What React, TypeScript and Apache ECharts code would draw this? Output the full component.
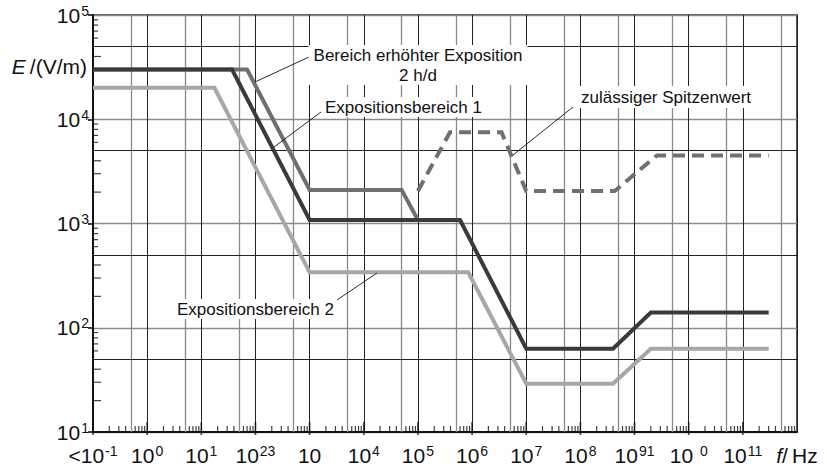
import React, { useEffect, useRef } from "react";
import * as echarts from "echarts";

// ---- data: [frequency in Hz, field strength in V/m] ----
const zone1: number[][] = [
  [0.1, 30000], [37, 30000], [1000, 1080], [6e5, 1080], [1e7, 63], [4e8, 63], [2e9, 140], [3e11, 140],
];
const zoneHigh: number[][] = [
  [0.1, 30000], [70, 30000], [1000, 2100], [5e4, 2100], [1e5, 1080],
];
const zone2: number[][] = [
  [0.1, 20000], [17.5, 20000], [1000, 340], [8.5e5, 340], [1e7, 29], [4e8, 29], [2e9, 63], [3e11, 63],
];
const peak: number[][] = [
  [1e5, 2050], [3.9e5, 7500], [3.5e6, 7500], [1e7, 2050], [4.3e8, 2050], [2.6e9, 4500], [3e11, 4500],
];

// tick labels (as printed in the reference), one per decade 10^-1 ... 10^12
const xTickBase = ["<10", "10", "10", "10", "10", "10", "10", "10", "10", "10", "10", "10 ", "10", "f"];
const xTickSup = ["-1", "0", "1", "23", "", "4", "5", "6", "7", "8", "91", "0", "11", ""];
const yTickExp = ["1", "2", "3", "4", "5"];

const xDecades = [-1, 0, 1, 2, 3, 4, 5, 6, 7, 8, 9, 10, 11];
const yDecades = [1, 2, 3, 4];
const minorMultipliers = [2, 3, 4, 6, 7, 8, 9];
const halfMultiplier = 5;

const FONT = "'Liberation Sans', Arial, Helvetica, sans-serif";

export default function App() {
  const ref = useRef<HTMLDivElement>(null);

  useEffect(() => {
    document.body.style.margin = "0";
    if (!ref.current) return;
    const chart = echarts.init(ref.current, null, { renderer: "svg" });

    const lg = (v: number) => Math.log10(v);
    const toLog = (pts: number[][]) => pts.map(([f, e]) => [lg(f), lg(e)]);

    const X0 = -1, X1 = 12, Y0 = 1;
    const xMinor: number[][] = [];
    xDecades.forEach((d) => minorMultipliers.forEach((m) => xMinor.push([d + lg(m), Y0])));
    const yMinorLong: number[][] = [];
    const yMinorShort: number[][] = [];
    yDecades.forEach((d) =>
      minorMultipliers.forEach((m) => (m <= 4 ? yMinorLong : yMinorShort).push([X0, d + lg(m)]))
    );
    const xHalf = xDecades.map((d) => d + lg(halfMultiplier));
    const yHalf = yDecades.map((d) => d + lg(halfMultiplier));
    const xMajorTicks = xDecades.map((d) => [d, Y0]);

    const rich = {
      t: { fontSize: 21, fontFamily: FONT, color: "#111", lineHeight: 23 },
      s: { fontSize: 14, fontFamily: FONT, color: "#111", verticalAlign: "top", lineHeight: 14, padding: [0, 0, 0, 1] },
      i: { fontSize: 21, fontFamily: FONT, color: "#111", fontStyle: "italic", lineHeight: 23 },
    };

    const tickSeries = (data: number[][], size: number[], offset: number[]) => ({
      type: "scatter", silent: true, z: 3, clip: false, data,
      symbol: "rect", symbolSize: size, symbolOffset: offset,
      itemStyle: { color: "#111", borderWidth: 0 },
      emphasis: { disabled: true },
    });

    const option: any = {
      animation: false,
      grid: {
        left: 93, right: 30, top: 15, bottom: 35,
        containLabel: false, outerBoundsMode: "none",
        show: true, borderColor: "#222", borderWidth: 1.5, backgroundColor: "transparent",
      },
      xAxis: {
        type: "value", min: X0, max: X1, interval: 1,
        axisLine: { show: true, onZero: false, lineStyle: { color: "#111", width: 2 } },
        axisTick: { show: false },
        splitLine: { show: true, lineStyle: { color: "#222", width: 1 } },
        axisLabel: {
          margin: 12, showMinLabel: true, showMaxLabel: true, hideOverlap: false,
          formatter: (v: number) => {
            const i = Math.round(v) + 1;
            if (i === 13) return "{i|f}{t|/\u2009Hz}";
            const b = xTickBase[i] ?? "";
            const s = xTickSup[i] ?? "";
            return s ? `{t|${b}}{s|${s}}` : `{t|${b}}`;
          },
          rich,
        },
      },
      yAxis: {
        type: "value", min: Y0, max: 5, interval: 1,
        axisLine: { show: true, onZero: false, lineStyle: { color: "#111", width: 2 } },
        axisTick: { show: true, inside: false, length: 5, lineStyle: { color: "#111", width: 1.6 } },
        splitLine: { show: true, lineStyle: { color: "#8a8a8a", width: 1.3 } },
        axisLabel: {
          margin: 4, showMinLabel: true, showMaxLabel: true, hideOverlap: false,
          formatter: (v: number) => `{t|10}{s|${yTickExp[Math.round(v) - 1] ?? ""}}`,
          rich,
        },
      },
      series: [
        {
          type: "line", data: [], z: 1, silent: true,
          markLine: {
            silent: true, symbol: "none", label: { show: false },
            lineStyle: { color: "#8a8a8a", width: 1.3, type: "solid" },
            data: xHalf.map((v) => ({ xAxis: v })),
          },
        },
        {
          type: "line", data: [], z: 1, silent: true,
          markLine: {
            silent: true, symbol: "none", label: { show: false },
            lineStyle: { color: "#222", width: 1, type: "solid" },
            data: yHalf.map((v) => ({ yAxis: v })),
          },
        },
        tickSeries(xMinor, [1.2, 6], [0, -3]),
        tickSeries(xMajorTicks, [1.6, 13], [0, -3.5]),
        tickSeries(yMinorLong, [8, 1.2], [4, 0]),
        tickSeries(yMinorShort, [5, 1.2], [2.5, 0]),
        {
          name: "Expositionsbereich 2", type: "line", data: toLog(zone2), showSymbol: false, symbol: "none", z: 5,
          lineStyle: { color: "#a7a7a7", width: 4, cap: "butt", join: "miter" },
        },
        {
          name: "Bereich erhöhter Exposition 2 h/d", type: "line", data: toLog(zoneHigh), showSymbol: false, symbol: "none", z: 6,
          lineStyle: { color: "#6f6f6f", width: 4, cap: "butt", join: "miter" },
        },
        {
          name: "Expositionsbereich 1", type: "line", data: toLog(zone1), showSymbol: false, symbol: "none", z: 7,
          lineStyle: { color: "#3a3a3a", width: 4, cap: "butt", join: "miter" },
        },
        {
          name: "zulässiger Spitzenwert", type: "line", data: toLog(peak), showSymbol: false, symbol: "none", z: 8,
          lineStyle: { color: "#707070", width: 4, type: [12, 7], cap: "butt", join: "miter" },
        },
      ],
      graphic: [
        { type: "line", z: 50, shape: { x1: 255, y1: 82, x2: 309, y2: 57 }, style: { stroke: "#111", lineWidth: 0.9 } },
        { type: "line", z: 50, shape: { x1: 274, y1: 147, x2: 321, y2: 112 }, style: { stroke: "#111", lineWidth: 0.9 } },
        { type: "line", z: 50, shape: { x1: 513, y1: 155, x2: 573, y2: 107 }, style: { stroke: "#111", lineWidth: 0.9 } },
        { type: "line", z: 50, shape: { x1: 337, y1: 300, x2: 377, y2: 273 }, style: { stroke: "#111", lineWidth: 0.9 } },
        {
          type: "text", z: 60, x: 418, y: 65,
          style: {
            text: "Bereich erhöhter Exposition\n2 h/d", align: "center", verticalAlign: "middle",
            font: `17px ${FONT}`, fill: "#111", lineHeight: 20, backgroundColor: "#fff", padding: [0, 5, 0, 5],
          },
        },
        {
          type: "text", z: 60, x: 322, y: 107,
          style: {
            text: "Expositionsbereich 1", align: "left", verticalAlign: "middle",
            font: `17px ${FONT}`, fill: "#111", lineHeight: 20, backgroundColor: "#fff", padding: [0, 4, 0, 3],
          },
        },
        {
          type: "text", z: 60, x: 577, y: 97,
          style: {
            text: "zulässiger Spitzenwert", align: "left", verticalAlign: "middle",
            font: `17px ${FONT}`, fill: "#111", lineHeight: 22, backgroundColor: "#fff", padding: [0, 4, 0, 4],
          },
        },
        {
          type: "text", z: 60, x: 174, y: 309,
          style: {
            text: "Expositionsbereich 2", align: "left", verticalAlign: "middle",
            font: `17px ${FONT}`, fill: "#111", lineHeight: 20, backgroundColor: "#fff", padding: [0, 3, 0, 3],
          },
        },
        {
          type: "text", z: 60, x: 87, y: 66,
          style: {
            text: "{i|E}{t|\u2009/(V/m)}", align: "right", verticalAlign: "middle",
            rich: {
              i: { font: `italic 21px ${FONT}`, fill: "#111" },
              t: { font: `21px ${FONT}`, fill: "#111" },
            },
          },
        },
      ],
    };

    chart.setOption(option);
    return () => chart.dispose();
  }, []);

  return <div ref={ref} style={{ position: "absolute", left: 0, top: 0, width: 827, height: 467 }} />;
}
